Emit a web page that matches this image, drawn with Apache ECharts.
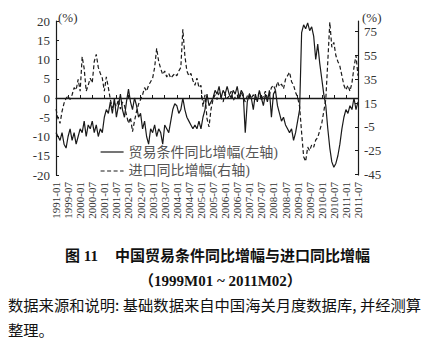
<!DOCTYPE html>
<html><head><meta charset="utf-8">
<script src="https://cdn.jsdelivr.net/npm/echarts@6/dist/echarts.min.js"></script>
<style>html,body{margin:0;padding:0;background:#fff}#c{width:432px;height:345px}</style>
</head><body><div id="c"></div>
<script>
// Monthly categories 1999-01 .. 2011-07
const months = [];
for (let y = 1999; y <= 2011; y++) {
  for (let m = 1; m <= 12; m++) {
    if (y === 2011 && m > 7) break;
    months.push(y + '-' + String(m).padStart(2, '0'));
  }
}
const xTickLabels = ['1991-01','1999-07','2000-01','2000-07','2001-01','2001-07','2002-01','2002-07',
  '2003-01','2003-07','2004-01','2004-07','2005-01','2005-07','2006-01','2006-07','2007-01','2007-07',
  '2008-01','2008-07','2009-01','2009-07','2010-01','2010-07','2011-01','2011-07'];
const leftTicks = [-20,-15,-10,-5,0,5,10,15,20];
const rightTicks = [-45,-25,-5,15,35,55,75];

// 贸易条件同比增幅 (left axis, %)
const tradeTermsYoY = [
  -9,-10,-11,-9,-12,-13,-10,-8,-11,-9,-12,-10,-8,
  -9,-6,-10,-7,-8,-6,-9,-7,-10,
  -8,-9,
  -5,-3,-4,
  -1,-4,0,-5,-2,1,-3,-5,-1,
  2.3,
  -1,-3,0,-2,
  -5,-4,-8,-6,-10,-12,
  -8,-9,-7,-10,-8,-9,-12,
  -7,-8,-9,-6,
  -3,-1.5,-2,
  -4,-3,0,
  -3,-5,-6,-7,-8,
  -7,-8,-6,-8,-5,
  -3,1,-2,-1,0,
  2,1,3,0,2,1,3,1,0,2,1,3,0,2,1,
  -9,
  -1,1,0,-3,1,-1,2,0,-2,1,-1,2,
  -5,1,2,
  -2,-4,-6,-5,-7,-8,-9,-8,-11,
  -9,-6,-3,
  17,19,18,19.5,17.5,18.5,16,
  10,14,9,5,1,-2,
  -8,-13,-16.6,-18,
  -17,-15,-12,-8,-5,-3,-4,-2,-3,0,-3,-1
];
// 进口同比增幅 (right axis, %)
const importYoY = [
  10,2,-2,8,15,19,
  21,18,22,
  28,26,35,25,
  54,44,25,
  30,36,32,
  50,56,
  45,40,36,
  25,37,
  28,18,
  11,15,12,18,10,16,13,
  5,-2,3,-9,
  0,8,14,18,
  22,28,25,30,33,36,
  45,61,50,
  44,39,42,
  37,40,36,38,
  40,38,42,45,
  77,55,
  42,38,40,
  34,30,36,28,
  30,12,22,2,-5,10,18,
  22,18,24,20,16,23,19,21,25,17,20,22,18,24,20,16,21,23,19,22,18,20,24,17,21,25,19,22,
  28,30,26,33,29,31,27,35,38,41,33,30,
  24,20,12,
  -10,-30,-34,
  -22,-25,-20,-22,-16,-14,-8,-2,8,18,
  50,83,
  62,66,55,50,46,38,30,26,30,25,32,45,55,38
];

const serif = '"Liberation Serif","Times New Roman","Noto Sans CJK SC",serif';
const cjk = '"Liberation Serif","Noto Sans CJK SC",sans-serif';
const sans = '"Noto Sans CJK SC",sans-serif';
const ink = '#1a1a1a';

const chart = echarts.init(document.getElementById('c'), null, {renderer: 'svg'});
chart.setOption({
  backgroundColor: '#fff',
  animation: false,
  title: [
    {text: '图 11', left: 60, top: 242, textStyle: {fontFamily: cjk, fontSize: 15, fontWeight: 'bold', color: '#111', lineHeight: 18}},
    {text: '中国贸易条件同比增幅与进口同比增幅', left: 110, top: 242, textStyle: {fontFamily: cjk, fontSize: 15, fontWeight: 'bold', color: '#111', lineHeight: 18}},
    {text: '（1999M01 ~ 2011M02）', left: 134, top: 267, textStyle: {fontFamily: cjk, fontSize: 15, fontWeight: 'bold', color: '#111', lineHeight: 18}},
    {text: '数据来源和说明: 基础数据来自中国海关月度数据库, 并经测算', left: 3, top: 290, textStyle: {fontFamily: sans, fontSize: 15.3, fontWeight: 'normal', color: '#111', lineHeight: 18}},
    {text: '整理。', left: 3, top: 315, textStyle: {fontFamily: sans, fontSize: 15.3, fontWeight: 'normal', color: '#111', lineHeight: 18}}
  ],
  legend: {
    orient: 'vertical', left: 100, top: 145, padding: 0, itemWidth: 23, itemHeight: 14, itemGap: 5,
    itemStyle: {opacity: 0, borderWidth: 0},
    lineStyle: {width: 1.2},
    textStyle: {fontFamily: cjk, fontSize: 14, color: '#555'},
    data: ['贸易条件同比增幅(左轴)', '进口同比增幅(右轴)']
  },
  grid: {left: 56, right: 74, top: 21, bottom: 170, containLabel: false},
  xAxis: [
    {
      type: 'category', data: months, boundaryGap: false, position: 'bottom',
      axisLine: {show: false, onZero: false}, axisTick: {show: false}, splitLine: {show: false},
      axisLabel: {interval: 5, rotate: 90, margin: 7, fontFamily: serif, fontSize: 11, color: '#333',
        formatter: (v, i) => xTickLabels[Math.round(i / 6)]}
    },
    {
      type: 'category', data: months, boundaryGap: false, position: 'bottom',
      axisLine: {show: true, onZero: true, onZeroAxisIndex: 0, lineStyle: {color: ink, width: 1.3}},
      axisTick: {show: true, inside: true, interval: 5, length: 3, lineStyle: {color: ink}},
      axisLabel: {show: false}, splitLine: {show: false}
    }
  ],
  yAxis: [
    {
      type: 'value', min: -20, max: 20, interval: 5, position: 'left',
      name: '(%)', nameLocation: 'end', nameGap: 4,
      nameTextStyle: {fontFamily: serif, fontSize: 13, color: '#333', align: 'left', verticalAlign: 'middle', padding: [0, 0, 0, 2]},
      axisLine: {show: true, lineStyle: {color: ink, width: 1.2}},
      axisTick: {show: true, inside: true, length: 3, lineStyle: {color: ink}},
      axisLabel: {margin: 6, fontFamily: serif, fontSize: 13, color: '#333'},
      splitLine: {show: false}
    },
    {
      type: 'value', min: -45.4, max: 84, position: 'right',
      name: '(%)', nameLocation: 'end', nameGap: 4,
      nameTextStyle: {fontFamily: serif, fontSize: 13, color: '#333', align: 'left', verticalAlign: 'middle', padding: [0, 0, 0, 4]},
      axisLine: {show: true, lineStyle: {color: ink, width: 1.2}},
      axisTick: {show: true, inside: true, length: 3, customValues: rightTicks, lineStyle: {color: ink}},
      axisLabel: {margin: 6, fontFamily: serif, fontSize: 13, color: '#333', customValues: rightTicks},
      splitLine: {show: false}
    }
  ],
  series: [
    {
      name: '贸易条件同比增幅(左轴)', type: 'line', xAxisIndex: 0, yAxisIndex: 0,
      data: tradeTermsYoY, symbol: 'none', smooth: false,
      lineStyle: {color: ink, width: 1.2}, itemStyle: {color: ink}, z: 3
    },
    {
      name: '进口同比增幅(右轴)', type: 'line', xAxisIndex: 0, yAxisIndex: 1,
      data: importYoY, symbol: 'none', smooth: false,
      lineStyle: {color: ink, width: 1.2, type: [4, 2.5]}, itemStyle: {color: ink}, z: 2
    }
  ]
});
</script>
</body></html>
